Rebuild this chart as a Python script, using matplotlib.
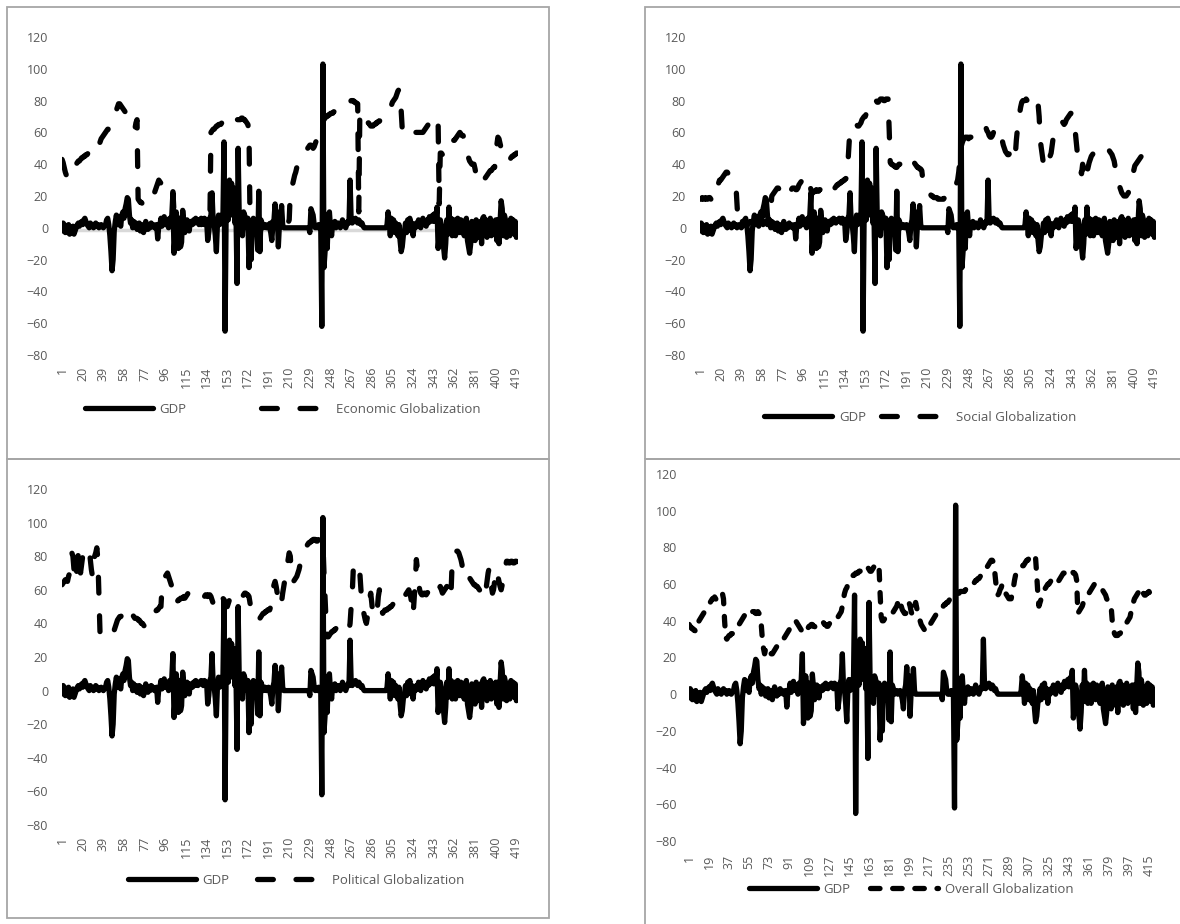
import numpy as np
import matplotlib
matplotlib.use("Agg")
import matplotlib.pyplot as plt

plt.rcParams["font.family"] = ["Open Sans", "DejaVu Sans"]

W, H = 1180, 924
INK = "#595959"; BORDER = "#a6a6a6"

# GDP growth, 420 panel observations (same series in every chart)
gdp = [
    -2, 3, 2, -3, 1, -3, 2, -4, -3, -2, 1, -4, -2, 0, 2, 3, 1, 3, 4, 2,
    5, 6, 4, 2, 1, 0, 3, 2, 1, 0, 2, 3, 1, 2, 0, 1, 2, 1, 0, 1,
    2, 5, 6, 2, -5, -15, -27, -20, -2, 4, 8, 2, 7, 3, 1, 8, 10, 6, 12, 15,
    19, 18, 8, 3, 5, 0, 4, 2, 3, -1, 1, 3, -2, 2, 0, -3, 1, 4, 2, -1,
    2, 0, 3, 1, 2, 0, 1, 2, -7, 1, 2, 6, 1, 4, 7, 2, 5, 3, 0, 6,
    2, 8, 22, -16, -5, 10, 2, -13, 6, -12, -9, 11, 4, -3, 2, 5, 1, -2, 4, 3,
    2, 5, 3, 6, 4, 3, 5, 4, 6, 5, 3, 6, 4, 5, -8, -3, 6, 8, 22, 5,
    2, -5, -15, 3, 8, 2, 5, 8, 6, 54, -65, 10, 27, 5, 30, 8, 28, 12, 25, 3,
    10, -35, 50, 8, 2, 5, -5, 10, 8, 5, 0, 6, -25, -12, -20, 2, 6, 5, -3, 4,
    -14, 23, -15, 5, 3, 0, 1, 2, 0, 1, 2, 0, -3, -8, 2, 5, 15, 3, 10, -12,
    2, 5, 14, 2, 0, 0, 0, 0, 0, 0, 0, 0, 0, 0, 0, 0, 0, 0, 0, 0,
    0, 0, 0, 0, 0, 0, 0, 0, -3, 12, 10, 8, 2, 0, 1, 0, 2, 0, 1, -62,
    103, -25, -15, 5, -13, 8, 10, 0, -5, 3, 1, 4, 0, 2, 3, 1, 0, 2, 5, 3,
    1, 0, 2, 4, 3, 30, 5, 3, 4, 5, 6, 4, 3, 5, 4, 2, 3, 1, 0, 0,
    0, 0, 0, 0, 0, 0, 0, 0, 0, 0, 0, 0, 0, 0, 0, 0, 0, 0, 0, 2,
    10, 4, -5, 6, 2, 5, -3, 3, 0, -5, 2, -8, -15, -12, -5, -2, 3, -3, 5, 2,
    6, -2, 3, -5, 2, 0, 3, 1, 5, 2, 0, 3, 6, 2, 4, 1, 5, 3, 7, 4,
    6, 8, 4, 9, 5, 13, -13, -5, 5, 2, -8, -12, -19, -10, 5, -4, 13, -3, 6, -5,
    3, 5, -5, 2, 6, 4, -3, 5, 2, 0, -5, 4, 6, -8, -12, -16, -10, 4, -6, 3,
    -8, 5, -5, 2, -6, 4, -10, 6, 7, -3, 5, -6, 3, -2, 6, -5, 2, 4, -4, 5,
    -8, 5, -10, 3, 17, 12, -5, 8, 5, -6, 3, 4, -5, 6, -2, 5, -4, 4, -6, -5,
]

economic = [
    43, 41, 38, 35, 33, 32, 34, 36, 38, 39, 38, 39, 40, 40, 41, 42, 42, 43, 44, 44,
    45, 45, 46, 46, 47, 48, 49, 50, 50, 51, 52, 52, 50, 51, 52, 54, 56, 57, 58, 59,
    60, 61, 62, 62, 63, 65, 66, 68, 70, 72, 74, 76, 78, 78, 77, 76, 75, 74, 73, 72,
    70, 69, 68, 66, 65, 64, 63, 62, 66, 68, 18, 17, 16, 16, 15, 15, 16, 16, 15, 16,
    16, 17, 17, 18, 20, 22, 24, 26, 28, 30, 29, 28, 27, 26, 26, 27, 28, 29, 28, 26,
    25, 24, 23, 10, 3, 2, 3, 2, 4, 3, 2, 3, 4, 2, 3, 2, 4, 3, 2, 3,
    4, 2, 3, 2, 3, 4, 2, 3, 2, 4, 3, 2, 3, 4, 2, 3, 3, 60, 61, 62,
    62, 63, 64, 64, 65, 65, 65, 66, 66, 66, 67, 67, 67, 68, 68, 68, 67, 66, 65, 66,
    67, 68, 68, 68, 68, 69, 69, 68, 68, 67, 66, 65, 60, 3, 2, 3, 4, 2, 3, 2,
    3, 4, 2, 3, 2, 4, 3, 2, 3, 4, 2, 3, 2, 3, 4, 2, 3, 2, 4, 3,
    2, 3, 4, 2, 3, 2, 3, 4, 3, 5, 22, 24, 27, 30, 33, 35, 38, 40, 42, 43,
    44, 45, 46, 47, 48, 49, 50, 51, 52, 52, 51, 50, 51, 53, 55, 58, 60, 61, 63, 66,
    68, 68, 69, 70, 70, 71, 71, 72, 72, 72, 73, 73, 73, 74, 74, 74, 74, 74, 75, 76,
    77, 77, 78, 78, 79, 79, 80, 80, 80, 79, 79, 78, 78, 10, 73, 72, 71, 70, 69, 68,
    67, 66, 66, 65, 64, 64, 64, 65, 65, 66, 66, 67, 67, 68, 68, 69, 69, 70, 70, 70,
    71, 73, 75, 77, 79, 80, 81, 82, 84, 86, 87, 80, 74, 62, 63, 64, 65, 64, 63, 63,
    62, 62, 61, 61, 61, 60, 60, 60, 60, 60, 60, 60, 60, 61, 62, 63, 64, 65, 65, 64,
    62, 63, 64, 65, 66, 67, 67, 15, 47, 47, 46, 46, 45, 45, 46, 47, 50, 52, 53, 54,
    55, 55, 56, 57, 58, 59, 60, 59, 58, 58, 56, 52, 48, 46, 44, 42, 41, 40, 40, 40,
    37, 33, 30, 28, 28, 28, 29, 29, 30, 31, 32, 33, 34, 35, 36, 36, 37, 38, 38, 45,
    52, 57, 56, 53, 50, 48, 46, 44, 42, 42, 42, 43, 43, 44, 45, 45, 46, 46, 47, 47,
]

social = [
    18, 18, 19, 18, 18, 19, 18, 18, 19, 19, 18, 19, 19, 19, 18, 22, 25, 28, 30, 30,
    31, 32, 33, 34, 35, 35, 34, 33, 32, 31, 30, 29, 28, 27, 15, 3, 4, 3, 2, 4,
    3, 2, 4, 3, 2, 3, 4, 3, 2, 4, 3, 2, 3, 4, 3, 2, 4, 3, 2, 3,
    4, 3, 2, 4, 3, 10, 20, 21, 22, 23, 24, 25, 25, 24, 23, 22, 21, 20, 22, 23,
    24, 25, 25, 24, 24, 25, 25, 25, 24, 24, 25, 27, 28, 29, 30, 31, 32, 33, 33, 32,
    30, 27, 24, 22, 22, 23, 23, 24, 23, 23, 24, 24, 23, 22, 23, 24, 24, 23, 22, 22,
    23, 24, 24, 25, 25, 26, 27, 27, 28, 28, 29, 29, 30, 30, 31, 31, 40, 52, 63, 63,
    64, 64, 64, 65, 65, 64, 64, 65, 66, 68, 69, 70, 70, 72, 74, 76, 78, 80, 81, 81,
    81, 80, 80, 79, 79, 80, 81, 81, 81, 80, 80, 81, 81, 81, 62, 41, 40, 40, 39, 39,
    38, 38, 39, 40, 40, 39, 39, 38, 37, 37, 36, 36, 36, 37, 38, 39, 40, 41, 40, 39,
    38, 38, 37, 37, 36, 30, 26, 25, 24, 23, 22, 21, 21, 20, 20, 19, 19, 19, 19, 18,
    18, 18, 18, 18, 18, 19, 19, 19, 20, 20, 21, 21, 22, 22, 23, 25, 28, 30, 35, 42,
    50, 53, 55, 56, 57, 57, 57, 56, 57, 57, 57, 57, 57, 58, 58, 57, 58, 59, 60, 61,
    62, 62, 63, 63, 61, 60, 58, 57, 57, 58, 60, 62, 63, 63, 63, 62, 60, 58, 55, 52,
    50, 48, 47, 46, 46, 47, 48, 50, 48, 46, 45, 55, 62, 68, 72, 76, 79, 80, 80, 80,
    81, 80, 79, 80, 81, 80, 80, 79, 80, 81, 80, 78, 70, 55, 50, 45, 40, 47, 47, 47,
    46, 45, 45, 47, 52, 57, 58, 59, 60, 62, 64, 65, 66, 67, 66, 65, 66, 68, 69, 70,
    71, 72, 72, 71, 70, 62, 55, 48, 45, 40, 36, 34, 40, 35, 30, 32, 35, 38, 41, 43,
    45, 46, 47, 47, 48, 48, 48, 49, 50, 50, 51, 51, 51, 50, 50, 50, 49, 48, 47, 46,
    44, 42, 38, 34, 30, 28, 26, 24, 22, 21, 20, 20, 20, 21, 22, 24, 26, 28, 32, 36,
    39, 40, 41, 42, 43, 44, 45, 46, 47, 47, 48, 48, 48, 48, 48, 47, 47, 48, 48, 48,
]

political = [
    63, 64, 65, 66, 66, 65, 68,
    70, 78, 82, 80, 72, 65, 68, 75, 82, 80, 70, 75,
    80, 82, 83, 84, 85, 85, 84, 78, 72, 68, 75, 80, 82,
    85, 78, 55,
    33, 32, 32, 32, 33, 33, 33, 34, 34, 34, 34, 34,
    35, 36, 38, 40, 42, 43, 44,
    44, 45, 46, 47, 48, 49, 50, 49, 48,
    47, 46, 45, 44, 43, 43,
    43, 42, 42, 41, 40, 40, 39, 38, 38,
    40, 42, 43, 44, 45, 46, 46, 47, 47, 48, 48, 49, 50, 50,
    62, 64, 66, 68, 69, 70, 68,
    66, 64, 62, 58, 54, 52,
    52, 53, 54, 54, 55, 55, 55, 56,
    55, 56, 57, 58, 58, 58, 57, 57, 58, 58, 57, 57,
    57, 56, 56, 57, 57, 56, 56, 57, 57, 56, 57,
    57, 56, 54, 52, 50, 52,
    53, 54, 55, 54, 53, 54, 55, 54, 52, 50, 50, 52, 54, 55, 56, 57, 58,
    58, 57, 57, 58, 58, 57, 56, 56, 57, 58, 58, 57, 57, 56,
    52, 47, 46, 45, 44, 43, 42, 42,
    42, 43, 44, 45, 46, 46, 47, 47, 48, 48, 48, 50,
    55, 60, 63, 65, 62, 58, 55, 52, 50, 53, 58, 62, 66, 70, 74, 78, 82, 80, 70, 65,
    65, 66, 67, 68, 70, 72, 75, 78, 80, 82,
    84, 85, 86, 87, 88, 88, 89, 89, 90,
    90, 90, 89, 89, 90, 91, 90, 89, 88, 70, 55, 40,
    32, 32, 33, 34, 35, 35, 36, 36, 37, 37, 38, 38, 38, 38, 37,
    37, 36, 36, 35, 35, 36, 40, 50, 58,
    73, 74, 75, 76, 76, 74, 70,
    60, 52, 48,
    45, 42, 40, 44, 48, 55, 58, 52, 45, 44, 45, 46, 48, 56, 60,
    52, 48, 46, 47,
    48, 48, 48, 49, 49, 50, 50, 51, 52, 53, 53,
    54, 54, 53, 52, 52, 53, 55,
    56, 57, 58, 59, 60, 58, 55, 50, 45,
    55, 65, 78,
    72, 65, 60, 58, 57, 57, 58, 58, 57,
    58, 59, 60, 61, 62, 63, 62, 61, 60, 59, 60, 61, 62, 60,
    58, 59, 60, 61, 62, 60, 57, 55, 60,
    78, 80, 82, 83, 83, 83, 82, 80, 78, 75,
    68, 67, 66, 66, 65, 66, 67, 66, 65,
    64, 63, 63, 62,
    62, 61, 60, 59, 58, 56, 55, 55,
    60, 65, 70, 73, 68, 62, 58, 60, 65, 70, 72, 68, 65, 62, 60, 63,
    66, 70, 74, 77,
    77, 76, 76, 77, 77, 76, 76, 77, 77, 76,
]

overall = [
    38, 37, 36, 36, 35, 35, 34, 35,
    38, 40, 41, 42, 43, 44, 45, 46, 47, 48, 49, 50, 51,
    52, 52, 53, 52, 51, 52, 53, 54, 55, 55, 52,
    40, 31,
    30, 31, 32, 32, 33, 33, 34, 35, 36, 37, 38, 38, 39,
    40, 41, 42, 43, 44, 44, 45, 45, 46, 46, 45, 45, 45, 44, 44, 45, 44,
    42, 38, 30, 25, 22,
    25, 26, 25, 24, 23, 22, 22, 23, 24, 25, 26, 27, 28, 28, 29, 30, 30, 31,
    32, 33, 34, 35, 36, 37, 38, 39, 40, 40, 39, 38, 37, 36, 35, 34, 33,
    33, 34, 35, 36, 37, 37, 38, 38, 37, 37, 36, 36, 37, 37, 38, 38, 39, 39, 38, 38, 37, 37,
    38, 39, 39, 40, 40, 41, 41, 42, 42, 43, 44, 45,
    48, 52, 55, 57, 58, 60, 61, 62, 63, 64, 65, 65, 66, 66,
    66, 67, 67, 68, 68, 69, 69, 70, 70, 69, 68, 67, 67, 68, 69, 70, 70, 71, 71, 70,
    55, 42,
    40, 40, 41, 41, 42, 42, 43, 43, 44, 44, 45, 46, 47, 48, 50, 52, 50, 48, 46, 45, 44, 44, 45,
    48, 50, 48, 45, 43, 45, 48, 50, 47, 44, 42, 40, 38, 37,
    36, 35, 34, 35, 36, 37, 38, 39, 40, 41, 42, 43, 44, 45, 46,
    47, 47, 48, 48, 49, 49, 50, 50, 51, 52, 53, 53, 54, 54, 55, 55, 55,
    55, 56, 56, 56, 56, 56, 57, 57, 57, 57, 58, 58, 59, 60, 61, 62,
    62, 63, 63, 64, 65, 65, 66, 67, 68, 69, 70, 71, 72, 73, 73, 72,
    68, 62, 56, 54, 55, 57, 58,
    60, 58, 56, 55, 54, 53, 52, 52, 52,
    55, 58, 62, 65,
    66, 67, 68, 68, 69, 70, 70, 71, 72, 73, 73, 74, 74, 75, 75, 76, 76, 74,
    65, 55, 48, 50, 52,
    55, 56, 57, 58, 59, 60, 60, 61, 62, 62, 62,
    61, 60, 60, 61, 62, 63, 64, 65, 66, 66, 67, 67,
    68, 68, 68, 67, 67, 66, 66, 65, 62,
    44, 45, 46, 47, 48, 50, 51, 52, 53, 54, 55,
    56, 57, 58, 59, 60, 60, 60, 59, 59, 58, 58, 57, 56,
    55, 54, 52, 51, 50, 49, 48,
    40, 36, 33, 32, 32, 32, 33,
    33, 34, 35, 36, 37, 38, 39, 40, 41, 42,
    45, 48, 50, 52, 53, 54, 55, 56, 58,
    56, 55, 55, 54, 54, 55, 55, 56, 55, 56, 56, 56, 56,
]

for s in (gdp, economic, social, political, overall):
    assert len(s) == 420, len(s)

obs = np.arange(1, len(gdp) + 1)
LW = 3.8

fig = plt.figure(figsize=(W / 100, H / 100), dpi=100)


def box(x0, y0, x1, y1):
    fig.add_artist(plt.Rectangle((x0 / W, 1 - y1 / H), (x1 - x0) / W, (y1 - y0) / H,
                                 transform=fig.transFigure, fill=False, ec=BORDER, lw=1.3))


def panel(rect, glob, name, step, dash, leg_x, leg_y, colsp, ypad, xpad):
    l, t, r, b = rect
    ax = fig.add_axes([l / W, 1 - b / H, (r - l) / W, (b - t) / H])
    ax.plot(obs, gdp, color="black", lw=LW, solid_joinstyle="round", solid_capstyle="round", label="GDP")
    ax.plot(obs, glob, color="black", lw=LW, dashes=dash, dash_capstyle="round",
            dash_joinstyle="round", label=name)
    ax.set_xlim(0.5, len(obs) + 0.5); ax.set_ylim(-80, 120)
    ax.set_yticks(range(-80, 121, 20))
    ax.set_xticks(obs[::step])
    ax.tick_params(axis="x", rotation=90, length=0, pad=xpad, labelsize=9, labelcolor=INK)
    ax.tick_params(axis="y", length=0, pad=ypad, labelsize=9, labelcolor=INK)
    for sp in ax.spines.values():
        sp.set_visible(False)
    ax.patch.set_alpha(0)
    ax.legend(loc="center", bbox_to_anchor=(leg_x, leg_y), ncol=2, frameon=False, fontsize=9.5,
              labelcolor=INK, handlelength=5.15, handletextpad=0.53, columnspacing=colsp)
    return ax


box(7, 7, 549, 459); box(645, 7, 1195, 459); box(7, 459, 549, 918); box(645, 459, 1195, 935)

LONG = (3, 4.3)
SHORT = (1.8, 2.4)
ax1 = panel((61.5, 37, 518, 355), economic, "Economic Globalization", 19, LONG, 0.484, -0.17, 5.6, 9.7, 8.6)
ax1.axhline(-1.5, color="#d9d9d9", lw=2.5, zorder=0)
panel((699.5, 37, 1156, 355), social, "Social Globalization", 19, LONG, 0.483, -0.195, 1.1, 9.7, 8.6)
panel((61.5, 489, 518, 825), political, "Political Globalization", 19, LONG, 0.514, -0.164, 2.1, 9.7, 8.6)
panel((688.5, 474, 1155, 841), overall, "Overall Globalization", 18, SHORT, 0.477, -0.131, 1.45, 8.3, 10)

fig.savefig("out.png", dpi=100)
